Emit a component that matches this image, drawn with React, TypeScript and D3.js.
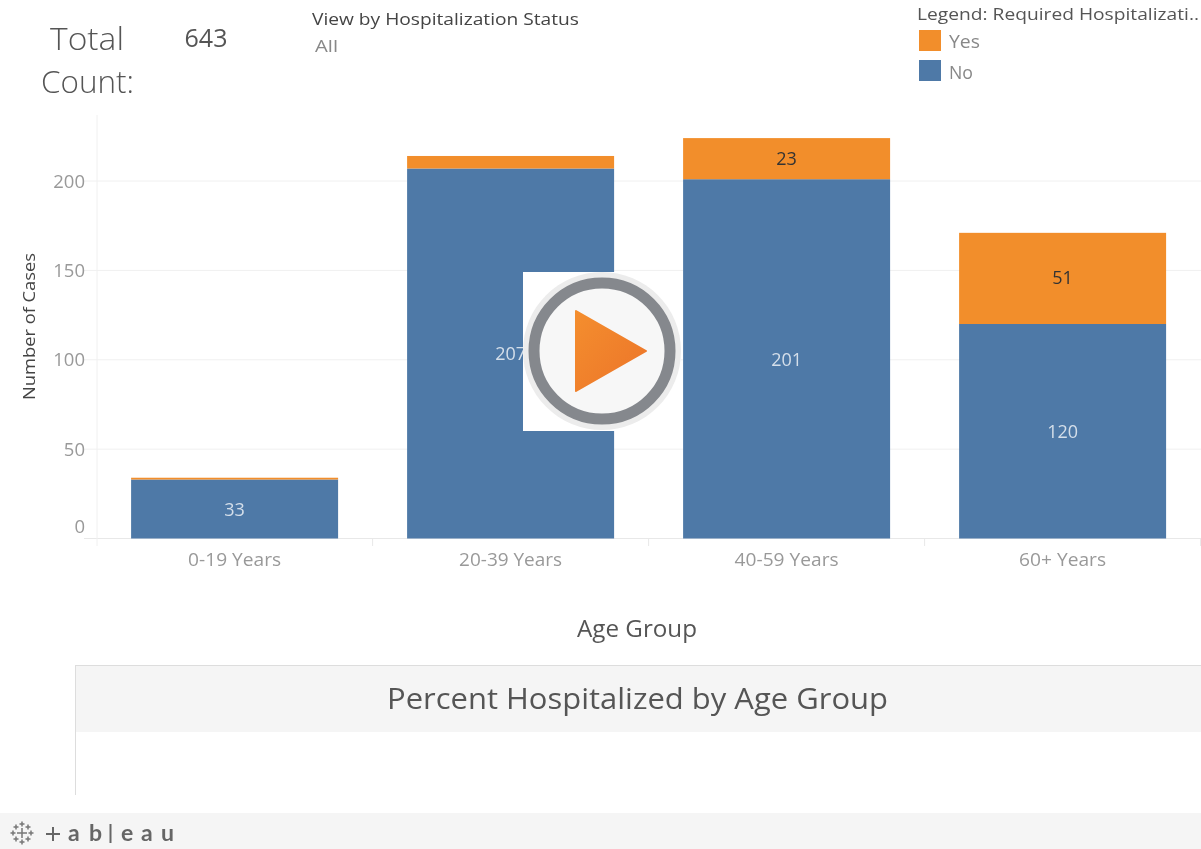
import React from "react";
import * as d3 from "d3";

const ageGroups = ["0-19 Years", "20-39 Years", "40-59 Years", "60+ Years"];
const noCounts = [33, 207, 201, 120];
const yesCounts = [1, 7, 23, 51];
const yesLabels = ["", "", "23", "51"];
const noLabels = ["33", "207", "201", "120"];
const yTicks = [0, 50, 100, 150, 200];
const ageLabelWidths = [93, 103, 104, 87];

const FONT = "'Open Sans', 'Noto Sans', sans-serif";
const BLUE = "#4e79a7";
const ORANGE = "#f28e2b";

const x = d3.scaleBand<string>().domain(ageGroups).range([96.6, 1200.6]).paddingInner(0.25).paddingOuter(0.125);
const y = d3.scaleLinear().domain([0, 200]).range([538.5, 181]);

const logoCrosses: [number, number, number][] = [
  [22, 833, 5], [22, 824, 2.5], [22, 842, 2.5], [13, 833, 2.5], [31, 833, 2.5],
  [16, 827, 2.5], [28, 827, 2.5], [16, 839, 2.5], [28, 839, 2.5],
];

export default function App() {
  const stack = ageGroups.map((g, i) => ({ g, no: noCounts[i], yes: yesCounts[i] }));
  return (
    <svg width={1201} height={849} viewBox="0 0 1201 849"
      style={{ position: "absolute", left: 0, top: 0, background: "#fff", filter: "blur(0.45px)" }} fontFamily={FONT}>
      <defs>
        <linearGradient id="play" x1="0" y1="0" x2="1" y2="1">
          <stop offset="0" stopColor="#f48e2e" />
          <stop offset="1" stopColor="#ec7429" />
        </linearGradient>
      </defs>

      {/* header */}
      <text x={50} y={50} fontSize={31} fill="#555" fontWeight={300} textLength={74} lengthAdjust="spacingAndGlyphs">Total</text>
      <text x={41} y={93} fontSize={31} fill="#555" fontWeight={300} textLength={93} lengthAdjust="spacingAndGlyphs">Count:</text>
      <text x={206} y={47} fontSize={25} fill="#555" textAnchor="middle">643</text>
      <text x={312} y={25} fontSize={17} fill="#444" textLength={267} lengthAdjust="spacingAndGlyphs">View by Hospitalization Status</text>
      <text x={315} y={52} fontSize={17} fill="#888" textLength={23} lengthAdjust="spacingAndGlyphs">All</text>
      <text x={917} y={20} fontSize={17} fill="#555" textLength={282} lengthAdjust="spacingAndGlyphs">Legend: Required Hospitalizati..</text>
      <rect x={919} y={30} width={22} height={21} fill={ORANGE} />
      <text x={949} y={48} fontSize={18} fill="#888" textLength={31} lengthAdjust="spacingAndGlyphs">Yes</text>
      <rect x={919} y={60} width={22} height={21} fill={BLUE} />
      <text x={949} y={79} fontSize={18} fill="#888" textLength={24} lengthAdjust="spacingAndGlyphs">No</text>

      {/* gridlines and axes */}
      {yTicks.map((t) => (
        <line key={t} x1={84} x2={1201} y1={y(t)} y2={y(t)} stroke={t === 0 ? "#e8e8e8" : "#f0f0f0"} />
      ))}
      <line x1={97} x2={97} y1={115} y2={546} stroke="#f0f0f0" />
      {ageGroups.map((g) => {
        const tx = (x(g) as number) + x.bandwidth() + x.step() * 0.125;
        return <line key={g} x1={tx} x2={tx} y1={538.5} y2={546} stroke="#e8e8e8" />;
      })}
      {yTicks.map((t) => (
        <text key={t} x={85} y={t === 0 ? 532.5 : y(t) + 6.5} fontSize={18.5} fill="#999" textAnchor="end">{t}</text>
      ))}
      <text transform="translate(35,326.5) rotate(-90)" fontSize={16.5} fill="#444" textAnchor="middle" textLength={147} lengthAdjust="spacingAndGlyphs">Number of Cases</text>

      {/* bars */}
      {stack.map((d, i) => {
        const bx = x(d.g) as number;
        const w = x.bandwidth();
        const cx = bx + w / 2;
        return (
          <g key={d.g}>
            <rect x={bx} y={y(d.no)} width={w} height={y(0) - y(d.no)} fill={BLUE} />
            <rect x={bx} y={y(d.no + d.yes)} width={w} height={y(d.no) - y(d.no + d.yes)} fill={ORANGE} />
            <text x={cx} y={y(d.no / 2) + 7} fontSize={18} fill="#d5dfea" textAnchor="middle">{noLabels[i]}</text>
            {yesLabels[i] && (
              <text x={cx} y={y(d.no + d.yes / 2) + 6} fontSize={18} fill="#333" textAnchor="middle">{yesLabels[i]}</text>
            )}
            <text x={cx} y={566} fontSize={18} fill="#999" textAnchor="middle" textLength={ageLabelWidths[i]} lengthAdjust="spacingAndGlyphs">{d.g}</text>
          </g>
        );
      })}
      <text x={637} y={637} fontSize={24} fill="#555" textAnchor="middle" textLength={120} lengthAdjust="spacingAndGlyphs">Age Group</text>

      {/* lower panel */}
      <rect x={75} y={665} width={1126} height={67} fill="#f5f5f5" />
      <line x1={75} x2={1201} y1={665.5} y2={665.5} stroke="#ddd" />
      <line x1={75.5} x2={75.5} y1={665} y2={795} stroke="#ddd" />
      <text x={637.5} y={709} fontSize={30} fill="#555" textAnchor="middle" textLength={501} lengthAdjust="spacingAndGlyphs">Percent Hospitalized by Age Group</text>

      {/* play overlay */}
      <rect x={523} y={272} width={158} height={159} fill="#fff" />
      <circle cx={602} cy={351} r={79} fill="#ececec" />
      <circle cx={602} cy={351} r={68} fill="#f7f7f7" stroke="#85888d" strokeWidth={11} />
      <path d="M576,311 L646,351 L576,391 Z" fill="url(#play)" stroke="url(#play)" strokeWidth={2} strokeLinejoin="round" />

      {/* footer */}
      <rect x={0} y={813} width={1201} height={36} fill="#f5f5f5" />
      {logoCrosses.map(([cx, cy, r], i) => (
        <path key={i} d={`M${cx - r},${cy}H${cx + r}M${cx},${cy - r}V${cy + r}`} stroke="#777" strokeWidth={1.5} fill="none" />
      ))}
      <path d="M46,834H60M53,827V841" stroke="#666" strokeWidth={2} fill="none" />
      <text y={841} fontSize={23} fill="#666" fontWeight={700} fontFamily="'Lato', sans-serif">
        <tspan x={68}>a</tspan>
        <tspan x={89}>b</tspan>
        <tspan x={121}>e</tspan>
        <tspan x={141}>a</tspan>
        <tspan x={161}>u</tspan>
      </text>
      <line x1={110.5} x2={110.5} y1={824} y2={843} stroke="#666" strokeWidth={2} />
    </svg>
  );
}
